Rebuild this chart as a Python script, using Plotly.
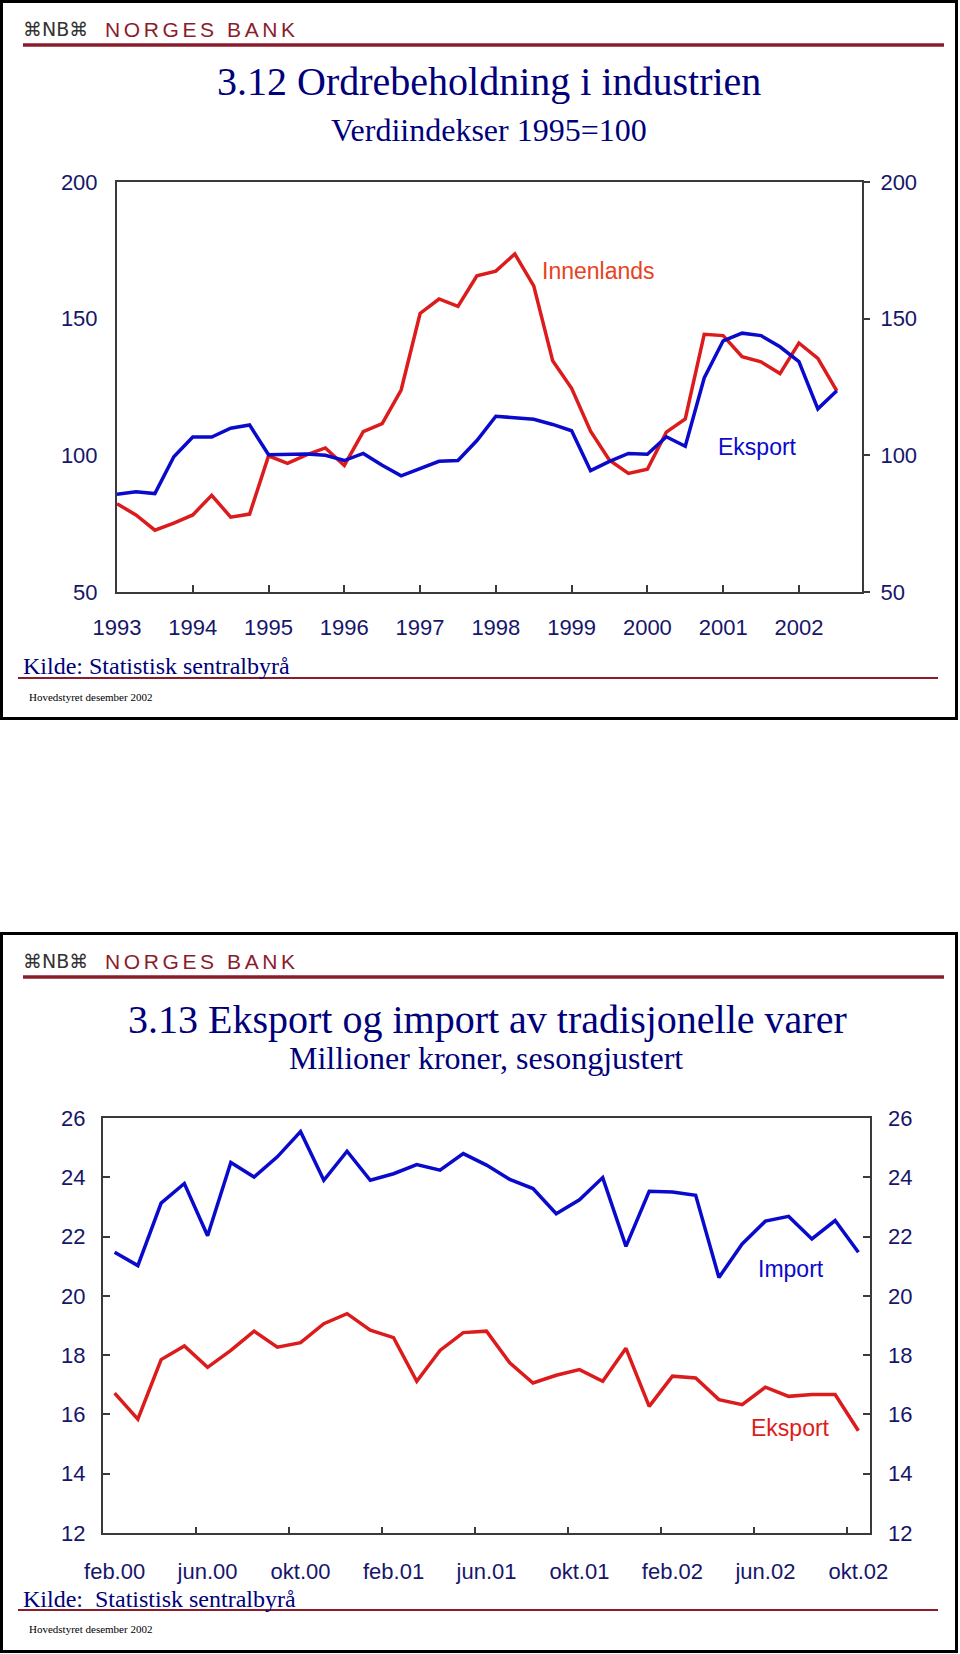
import plotly.graph_objects as go

# ---------------- data ----------------
# Chart 3.12: quarterly, 1993 Q1 - 2002 Q3 (index 1995=100)
quarters = [f"{y}K{q}" for y in range(1993, 2003) for q in range(1, 5)][:39]
innenlands = [82.3, 78.2, 72.6, 75.2, 78.2, 85.4, 77.4, 78.5, 99.8, 97.1,
              100.2, 102.7, 96.3, 108.7, 111.6, 123.9, 151.9, 157.2, 154.5, 165.7,
              167.4, 173.7, 162.0, 134.6, 124.5, 108.8, 98.2, 93.4, 94.9, 108.5,
              113.3, 144.3, 143.8, 136.1, 134.2, 129.9, 141.1, 135.5, 123.6]
eksport1 = [85.8, 86.7, 86.0, 99.5, 106.7, 106.7, 109.9, 111.1, 100.2, 100.5,
            100.5, 100.0, 98.1, 100.7, 96.4, 92.5, 95.2, 97.8, 98.1, 105.4,
            114.3, 113.6, 113.2, 111.3, 109.0, 94.4, 97.8, 100.7, 100.4, 106.8,
            103.3, 128.3, 141.9, 144.7, 143.8, 139.7, 134.3, 117.0, 123.6]
year_ticks = [0, 4, 8, 12, 16, 20, 24, 28, 32, 36]
year_labels = ["1993", "1994", "1995", "1996", "1997", "1998", "1999", "2000", "2001", "2002"]

# Chart 3.13: monthly, feb.00 - okt.02 (million NOK, seasonally adjusted)
months = ["feb.00", "mar.00", "apr.00", "mai.00", "jun.00", "jul.00", "aug.00", "sep.00",
          "okt.00", "nov.00", "des.00", "jan.01", "feb.01", "mar.01", "apr.01", "mai.01",
          "jun.01", "jul.01", "aug.01", "sep.01", "okt.01", "nov.01", "des.01", "jan.02",
          "feb.02", "mar.02", "apr.02", "mai.02", "jun.02", "jul.02", "aug.02", "sep.02",
          "okt.02"]
importv = [21.47, 21.02, 23.13, 23.79, 22.03, 24.50, 24.01, 24.69, 25.54, 23.90,
           24.88, 23.90, 24.12, 24.43, 24.24, 24.80, 24.41, 23.93, 23.62, 22.77,
           23.24, 23.99, 21.67, 23.53, 23.50, 23.39, 20.62, 21.75, 22.52, 22.68,
           21.92, 22.54, 21.47]
eksportv = [16.72, 15.84, 17.85, 18.31, 17.59, 18.16, 18.81, 18.27, 18.42, 19.06,
            19.40, 18.84, 18.59, 17.12, 18.16, 18.76, 18.81, 17.74, 17.06, 17.32,
            17.51, 17.12, 18.23, 16.27, 17.29, 17.23, 16.50, 16.33, 16.92, 16.61,
            16.67, 16.67, 15.45]
month_label_idx = [0, 4, 8, 12, 16, 20, 24, 28, 32]
month_tick_bounds = [3.5, 7.5, 11.5, 15.5, 19.5, 23.5, 27.5, 31.5]

# ---------------- styling ----------------
W, H = 960, 1654
BLUE = "#0A0ACC"
RED = "#DC1C1C"
NAVY = "#16166A"
TITLE = "#00007A"
AXC = "#3A3A3A"
MAROON = "#8A1C2C"
SANS = "Liberation Sans, Arial, sans-serif"
SERIF = "Liberation Serif, Times New Roman, serif"


def px(x):
    return x / W


def py(y):
    return 1 - y / H


x1 = list(range(len(quarters)))
x2 = list(range(len(months)))

fig = go.Figure()
fig.add_trace(go.Scatter(x=x1, y=innenlands, mode="lines", line=dict(color=RED, width=3.5),
                         xaxis="x", yaxis="y", name="Innenlands", hoverinfo="skip"))
fig.add_trace(go.Scatter(x=x1, y=eksport1, mode="lines", line=dict(color=BLUE, width=3.5),
                         xaxis="x", yaxis="y3", name="Eksport", hoverinfo="skip"))
fig.add_trace(go.Scatter(x=x2, y=importv, mode="lines", line=dict(color=BLUE, width=3.5),
                         xaxis="x2", yaxis="y2", name="Import", hoverinfo="skip"))
fig.add_trace(go.Scatter(x=x2, y=eksportv, mode="lines", line=dict(color=RED, width=3.5),
                         xaxis="x2", yaxis="y4", name="Eksport", hoverinfo="skip"))

tickfont = dict(family=SANS, size=22, color=NAVY)

shapes = []
annotations = []

# outer frames
for (top, bot) in [(1.5, 718.5), (933.5, 1651.5)]:
    shapes.append(dict(type="rect", xref="paper", yref="paper", x0=px(1.5), x1=px(956.5),
                       y0=py(bot), y1=py(top), line=dict(color="#000000", width=3)))

for off, ylines in [(0, (45, 678)), (932, (977, 1610))]:
    # logo
    annotations.append(dict(xref="paper", yref="paper", x=px(21), y=py(29 + off), xanchor="left",
                            yanchor="middle", showarrow=False, text="⌘NB⌘",
                            font=dict(family="DejaVu Sans", size=19, color="#333333")))
    annotations.append(dict(xref="paper", yref="paper", x=px(103), y=py(29 + off), xanchor="left",
                            yanchor="middle", showarrow=False,
                            text='<span style="letter-spacing:3.6px">NORGES BANK</span>',
                            font=dict(family=SANS, size=21, color=MAROON)))
    shapes.append(dict(type="line", xref="paper", yref="paper", x0=px(23), x1=px(944),
                       y0=py(ylines[0]), y1=py(ylines[0]), line=dict(color=MAROON, width=3.5)))
    shapes.append(dict(type="line", xref="paper", yref="paper", x0=px(18), x1=px(938),
                       y0=py(ylines[1]), y1=py(ylines[1]), line=dict(color=MAROON, width=2)))

# titles
annotations += [
    dict(xref="paper", yref="paper", x=px(489), y=py(81), text="3.12 Ordrebeholdning i industrien",
         showarrow=False, xanchor="center", yanchor="middle", font=dict(family=SERIF, size=40, color=TITLE)),
    dict(xref="paper", yref="paper", x=px(489), y=py(130), text="Verdiindekser 1995=100",
         showarrow=False, xanchor="center", yanchor="middle", font=dict(family=SERIF, size=32, color=TITLE)),
    dict(xref="paper", yref="paper", x=px(487), y=py(1019), text="3.13 Eksport og import av tradisjonelle varer",
         showarrow=False, xanchor="center", yanchor="middle", font=dict(family=SERIF, size=40, color=TITLE)),
    dict(xref="paper", yref="paper", x=px(486), y=py(1058), text="Millioner kroner, sesongjustert",
         showarrow=False, xanchor="center", yanchor="middle", font=dict(family=SERIF, size=32, color=TITLE)),
    dict(xref="paper", yref="paper", x=px(21), y=py(666), text="Kilde: Statistisk sentralbyrå",
         showarrow=False, xanchor="left", yanchor="middle", font=dict(family=SERIF, size=24, color=TITLE)),
    dict(xref="paper", yref="paper", x=px(21), y=py(1599), text="Kilde:\u00a0 Statistisk sentralbyrå",
         showarrow=False, xanchor="left", yanchor="middle", font=dict(family=SERIF, size=24, color=TITLE)),
    dict(xref="paper", yref="paper", x=px(27), y=py(697), text="Hovedstyret desember 2002",
         showarrow=False, xanchor="left", yanchor="middle", font=dict(family=SERIF, size=11, color="#000000")),
    dict(xref="paper", yref="paper", x=px(27), y=py(1629), text="Hovedstyret desember 2002",
         showarrow=False, xanchor="left", yanchor="middle", font=dict(family=SERIF, size=11, color="#000000")),
]

# series labels
annotations += [
    dict(xref="x", yref="y", x=25.4, y=167.4, text="Innenlands", showarrow=False,
         font=dict(family=SANS, size=23, color="#E8421E")),
    dict(xref="x", yref="y", x=33.8, y=103.0, text="Eksport", showarrow=False,
         font=dict(family=SANS, size=23, color=BLUE)),
    dict(xref="x2", yref="y2", x=29.1, y=20.92, text="Import", showarrow=False,
         font=dict(family=SANS, size=23, color=BLUE)),
    dict(xref="x2", yref="y2", x=29.1, y=15.53, text="Eksport", showarrow=False,
         font=dict(family=SANS, size=23, color=RED)),
]

axline = dict(showline=True, linecolor=AXC, linewidth=2, showgrid=False, zeroline=False,
              automargin=False)
noline = dict(showline=False, showgrid=False, zeroline=False, automargin=False)

fig.update_layout(
    width=W, height=H, margin=dict(l=0, r=0, t=0, b=0, autoexpand=False),
    paper_bgcolor="white", plot_bgcolor="white", showlegend=False,
    shapes=shapes, annotations=annotations,
    xaxis=dict(domain=[px(117), px(862)], anchor="y", range=[0, 39.33], mirror=True,
               tickmode="array", tickvals=year_ticks, ticktext=year_labels,
               ticks="inside", ticklen=7, tickwidth=2, tickcolor=AXC,
               tickfont=tickfont, ticklabelstandoff=15, **axline),
    yaxis=dict(domain=[py(592), py(182)], anchor="x", range=[50, 200], mirror=True,
               tickmode="array", tickvals=[50, 100, 150, 200], ticks="",
               tickfont=tickfont, ticklabelstandoff=13, **axline),
    yaxis3=dict(overlaying="y", anchor="x", side="right", range=[50, 200],
                tickmode="array", tickvals=[50, 100, 150, 200], ticks="outside", ticklen=7,
                tickwidth=2, tickcolor=AXC, tickfont=tickfont, ticklabelstandoff=6, **noline),
    xaxis2=dict(domain=[px(103), px(870)], anchor="y2", range=[-0.5, 32.5], mirror=True,
                tickmode="array", tickvals=month_label_idx,
                ticktext=[months[i] for i in month_label_idx], ticks="",
                minor=dict(tickmode="array", tickvals=month_tick_bounds, ticks="inside",
                           ticklen=6, tickwidth=2, tickcolor=AXC),
                tickfont=tickfont, ticklabelstandoff=18, **axline),
    yaxis2=dict(domain=[py(1533), py(1118)], anchor="x2", range=[12, 26], mirror="ticks",
                tickmode="array", tickvals=[12, 14, 16, 18, 20, 22, 24, 26], ticks="inside",
                ticklen=7, tickwidth=2, tickcolor=AXC,
                tickfont=tickfont, ticklabelstandoff=11, **axline),
    yaxis4=dict(overlaying="y2", anchor="x2", side="right", range=[12, 26],
                tickmode="array", tickvals=[12, 14, 16, 18, 20, 22, 24, 26], ticks="",
                tickfont=tickfont, ticklabelstandoff=17, **noline),
)

fig.write_html("out.html", config={"displayModeBar": False},
               post_script="document.body.style.margin='0';")
